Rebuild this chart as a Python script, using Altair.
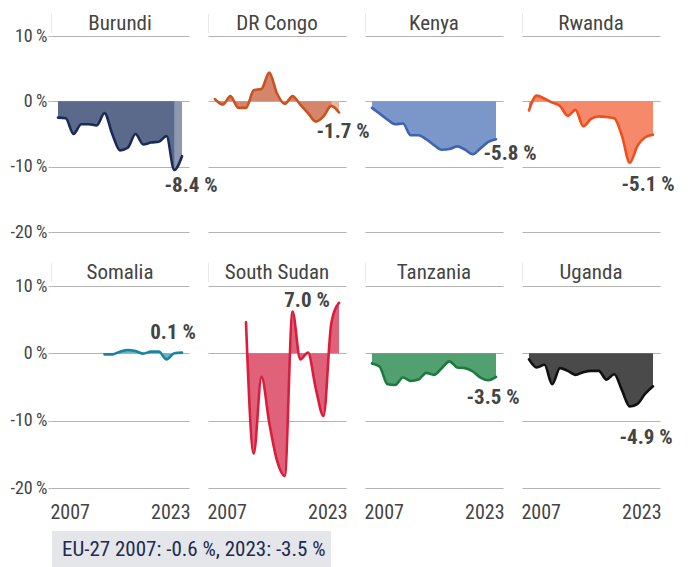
import altair as alt
import pandas as pd

# ---------------- data ----------------
years = list(range(2007, 2024))
countries = ["Burundi", "DR Congo", "Kenya", "Rwanda",
             "Somalia", "South Sudan", "Tanzania", "Uganda"]

burundi = [-2.5, -2.6, -5.0, -3.5, -3.5, -3.7, -1.8, -5.0, -7.5, -7.1, -5.0, -6.6, -6.3, -6.2, -5.3, -10.5, -8.4]
dr_congo = [0.35, -0.5, 0.8, -1.0, -1.0, 1.7, 1.9, 4.4, 1.2, -0.4, 0.8, -0.5, -1.8, -3.1, -2.3, -0.7, -1.7]
kenya = [-1.0, -1.9, -2.8, -3.5, -3.4, -5.2, -5.2, -5.8, -6.7, -7.4, -7.3, -6.9, -7.4, -8.1, -7.2, -6.2, -5.8]
rwanda = [-1.4, 0.9, 0.4, -0.2, -0.7, -2.2, -1.3, -3.8, -2.7, -2.3, -2.4, -2.6, -5.3, -9.4, -6.8, -5.5, -5.1]
somalia = [None, None, None, None, None, None, -0.15, -0.15, 0.25, 0.5, 0.35, -0.05, 0.25, 0.25, -0.9, 0.0, 0.1]
south_sudan = [None, None, None, None, 4.6, -14.9, -3.5, -10.3, -15.9, -18.2, 6.2, -0.9, 0.1, -5.2, -9.3, 4.4, 7.5]
tanzania = [-1.5, -2.0, -4.6, -4.7, -3.6, -4.1, -3.9, -2.9, -3.2, -2.2, -1.2, -2.1, -2.2, -2.7, -3.6, -4.0, -3.5]
uganda = [-0.9, -2.1, -1.7, -4.6, -2.2, -2.6, -3.2, -2.8, -2.6, -2.6, -3.9, -3.1, -5.5, -7.9, -7.5, -6.0, -4.9]

series = [burundi, dr_congo, kenya, rwanda, somalia, south_sudan, tanzania, uganda]
end_labels = ["-8.4 %", "-1.7 %", "-5.8 %", "-5.1 %", "0.1 %", "7.0 %", "-3.5 %", "-4.9 %"]
footer_text = "EU-27 2007: -0.6 %, 2023: -3.5 %"
y_ticks = [-20, -10, 0, 10]
x_ticks = [2007, 2023]
provisional_from = 2022

# ---------------- style ----------------
FONT = "Liberation Sans Narrow, Roboto Condensed, Roboto, sans-serif"
GRID = "#b3b3b3"
TEXT = "#444444"
line_colors = ["#1b2a57", "#c9521f", "#3e63b3", "#f04e1e", "#19849f", "#d81e3c", "#1b7a3e", "#111111"]
fill_colors = ["#5b6a8b", "#d4856b", "#7b97c9", "#f5896a", "#6db2c2", "#e0627a", "#52a06f", "#4a4a4a"]
light_fills = {"Burundi": "#8d99b0", "DR Congo": "#e9b6a4"}
label_offsets = [(9, 30), (4, 20), (14, 15), (-5, 50), (-9, -20), (-32, -2), (-3, 21), (-7, 52)]
PANEL_W = 138
ROW_H = [196, 202]
TITLE_Y = [-6, -7]


def panel(i):
    c = countries[i]
    row, col = divmod(i, 4)
    h = ROW_H[row]
    df = pd.DataFrame({"year": years, "value": series[i]}).dropna()

    xscale = alt.Scale(domain=[2006.1, 2023.9], nice=False, zero=False)
    yscale = alt.Scale(domain=[-20, 10], nice=False, zero=False)
    if row == 1:
        xaxis = alt.Axis(values=x_ticks, format="d", labelFlush=10, labelFlushOffset=8,
                         ticks=False, domain=False, grid=False, title=None,
                         labelPadding=14, labelFontSize=20)
    else:
        xaxis = None
    if col == 0:
        yaxis = alt.Axis(values=y_ticks, labelExpr="datum.value + '\u2009%'", tickSize=3,
                         tickColor=GRID, domain=False, grid=True, title=None,
                         labelPadding=1, labelFontSize=18)
    else:
        yaxis = alt.Axis(values=y_ticks, labels=False, ticks=False, domain=False,
                         grid=True, title=None)

    x = alt.X("year:Q", scale=xscale, axis=xaxis)
    y = alt.Y("value:Q", scale=yscale, axis=yaxis)

    layers = []
    if c in light_fills:
        layers.append(alt.Chart(df).mark_area(interpolate="monotone", color=light_fills[c])
                      .encode(x=x, y=y, y2=alt.datum(0)))
        layers.append(alt.Chart(df[df.year <= provisional_from])
                      .mark_area(interpolate="monotone", color=fill_colors[i])
                      .encode(x=x, y=y, y2=alt.datum(0)))
    else:
        layers.append(alt.Chart(df).mark_area(interpolate="monotone", color=fill_colors[i])
                      .encode(x=x, y=y, y2=alt.datum(0)))
    layers.append(alt.Chart(df).mark_line(interpolate="monotone", color=line_colors[i],
                                          strokeWidth=2.6, strokeCap="round")
                  .encode(x=x, y=y))
    last = df.tail(1).assign(label=end_labels[i])
    dx, dy = label_offsets[i]
    layers.append(alt.Chart(last).mark_text(dx=dx, dy=dy, align="center", baseline="middle",
                                            font=FONT, fontSize=21, fontWeight="bold", color=TEXT)
                  .encode(x=x, y=y, text="label:N"))

    # panel title with its faint left rule
    title_src = alt.Chart(alt.Data(values=[{"name": c}]))
    layers.append(title_src.mark_rule(color="#e8e8e8", strokeWidth=1).encode(
        x=alt.value(0.5), y=alt.value(TITLE_Y[row] - 16), y2=alt.value(TITLE_Y[row] + 3)))
    layers.append(title_src.mark_text(
        align="center", baseline="alphabetic", font=FONT, fontSize=21, color=TEXT
    ).encode(x=alt.value(PANEL_W / 2), y=alt.value(TITLE_Y[row]), text="name:N"))

    if i == 4:
        foot = alt.Chart(alt.Data(values=[{"t": footer_text}]))
        layers.append(foot.mark_rect(color="#e4e6ea").encode(
            x=alt.value(1), x2=alt.value(280), y=alt.value(h + 43), y2=alt.value(h + 82)))
        layers.append(foot.mark_text(align="left", baseline="middle", font=FONT, fontSize=21,
                                     color="#1e2a52").encode(
            x=alt.value(11), y=alt.value(h + 62), text="t:N"))

    return alt.layer(*layers).properties(width=PANEL_W, height=h)


chart = (
    alt.concat(*[panel(i) for i in range(8)], columns=4,
               spacing={"row": 54, "column": 19}, bounds="flush", align="each")
    .properties(padding={"left": 1, "top": 5, "right": 5, "bottom": 0})
    .configure_view(stroke=None)
    .configure_axis(labelFont=FONT, labelColor=TEXT, gridColor=GRID, gridWidth=1.2)
)

chart.save("out.html", embed_options={"renderer": "svg", "actions": False})
